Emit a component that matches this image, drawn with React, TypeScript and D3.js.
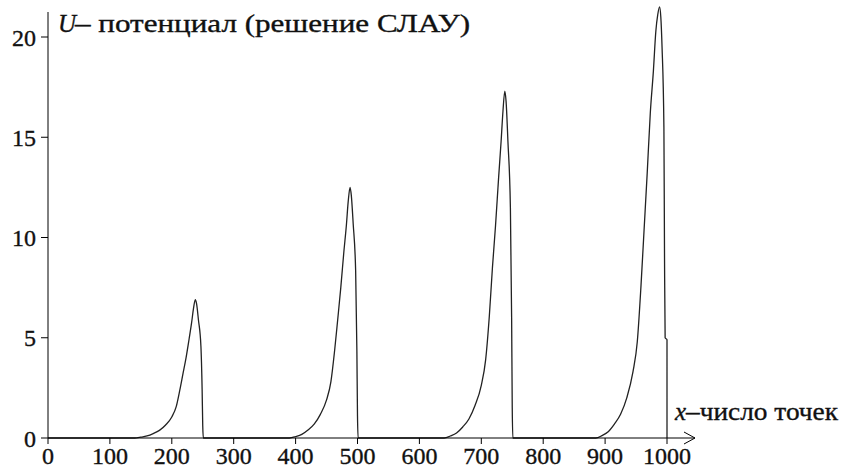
import React from "react";
import * as d3 from "d3";

const W = 848;
const H = 471;

const xTickValues = [0, 100, 200, 300, 400, 500, 600, 700, 800, 900, 1000];
const yTickValues = [0, 5, 10, 15, 20];

const titleText = "– потенциал (решение СЛАУ)";
const xLabelText = "–число точек";

const peak1X = [140, 150, 160, 170, 180, 190, 200, 207, 213, 218, 223, 228, 232, 235, 238, 240, 243, 247, 249, 250, 251];
const peak1U = [0, 0.04, 0.1, 0.22, 0.38, 0.65, 1.05, 1.55, 2.4, 3.2, 4.0, 4.95, 5.75, 6.45, 6.9, 6.7, 5.9, 4.6, 2.4, 0.6, 0];

const peak2X = [390, 400, 410, 420, 430, 440, 450, 457, 463, 468, 473, 478, 482, 485, 488, 490, 493, 497, 499, 500, 501];
const peak2U = [0, 0.07, 0.18, 0.4, 0.69, 1.18, 1.9, 2.8, 4.35, 5.9, 7.5, 9.3, 10.6, 11.8, 12.5, 12.1, 10.7, 8.35, 4.35, 1.1, 0];

const peak3X = [640, 650, 660, 670, 680, 690, 700, 707, 713, 718, 723, 728, 732, 735, 738, 740, 743, 747, 749, 750, 751];
const peak3U = [0, 0.1, 0.25, 0.55, 0.95, 1.63, 2.63, 3.9, 6.1, 8.5, 10.6, 13.0, 14.8, 16.3, 17.3, 16.8, 14.8, 11.5, 6.0, 1.5, 0];

const peak4X = [885, 895, 905, 915, 925, 935, 945, 952, 958, 963, 968, 973, 978, 982, 985, 988, 990, 992, 995, 996, 997, 1000, 1000];
const peak4U = [0, 0.12, 0.31, 0.69, 1.18, 2.0, 3.3, 4.8, 7.6, 10.4, 13.2, 16.2, 18.3, 20.3, 21.1, 21.5, 21.0, 19.5, 15.5, 9.0, 5.0, 4.9, 0];

const FONT = "'Liberation Serif', 'DejaVu Serif', serif";

export default function App() {
  const x = d3.scaleLinear().domain([0, 1000]).range([48, 667]);
  const y = d3.scaleLinear().domain([0, 20]).range([438, 37]);

  const pts: [number, number][] = [[0, 0]];
  const peaks = [
    [peak1X, peak1U],
    [peak2X, peak2U],
    [peak3X, peak3U],
    [peak4X, peak4U],
  ];
  peaks.forEach(([xs, us]) => {
    xs.forEach((v, i) => pts.push([v, us[i]]));
  });

  const line = d3
    .line<[number, number]>()
    .x((d) => x(d[0]))
    .y((d) => y(d[1]))
    .curve(d3.curveMonotoneX);

  const axisY = y(0);
  const arrowTip = 695;
  const textStroke = { stroke: "#111", strokeWidth: 0.35 };

  return (
    <svg
      width={W}
      height={H}
      style={{ position: "absolute", left: 0, top: 0, background: "#fff" }}
      fontFamily={FONT}
    >
      {/* curve */}
      <path d={line(pts) || ""} fill="none" stroke="#222" strokeWidth={1.3} />

      {/* x axis */}
      <line x1={x(0)} x2={arrowTip} y1={axisY} y2={axisY} stroke="#000" strokeWidth={1} />
      <path
        d={`M${arrowTip - 11},${axisY - 6} L${arrowTip},${axisY} L${arrowTip - 11},${axisY + 6}`}
        fill="none"
        stroke="#000"
        strokeWidth={1}
      />
      {xTickValues.map((t) => (
        <g key={"xt" + t}>
          <line x1={x(t)} x2={x(t)} y1={axisY} y2={axisY + 6} stroke="#000" strokeWidth={1} />
          <text
            x={x(t)}
            y={464}
            textAnchor="middle"
            fontSize={24}
            fill="#111"
            {...textStroke}
          >
            {t}
          </text>
        </g>
      ))}

      {/* y axis */}
      <line x1={x(0)} x2={x(0)} y1={axisY} y2={12} stroke="#000" strokeWidth={1} />
      {yTickValues.map((t) => (
        <g key={"yt" + t}>
          <line x1={x(0) - 7} x2={x(0)} y1={y(t)} y2={y(t)} stroke="#000" strokeWidth={1} />
          <text
            x={36}
            y={y(t) + 8.5}
            textAnchor="end"
            fontSize={24}
            fill="#111"
            {...textStroke}
          >
            {t}
          </text>
        </g>
      ))}

      {/* title */}
      <text x={58} y={32} fontSize={25} fontStyle="italic" fill="#111" {...textStroke}>
        U
      </text>
      <text
        x={75}
        y={32}
        fontSize={25}
        fill="#111"
        textLength={395}
        lengthAdjust="spacingAndGlyphs"
        {...textStroke}
      >
        {titleText}
      </text>

      {/* x label */}
      <text x={675} y={420} fontSize={25} fontStyle="italic" fill="#111" {...textStroke}>
        x
      </text>
      <text
        x={686}
        y={420}
        fontSize={25}
        fill="#111"
        textLength={152}
        lengthAdjust="spacingAndGlyphs"
        {...textStroke}
      >
        {xLabelText}
      </text>
    </svg>
  );
}
